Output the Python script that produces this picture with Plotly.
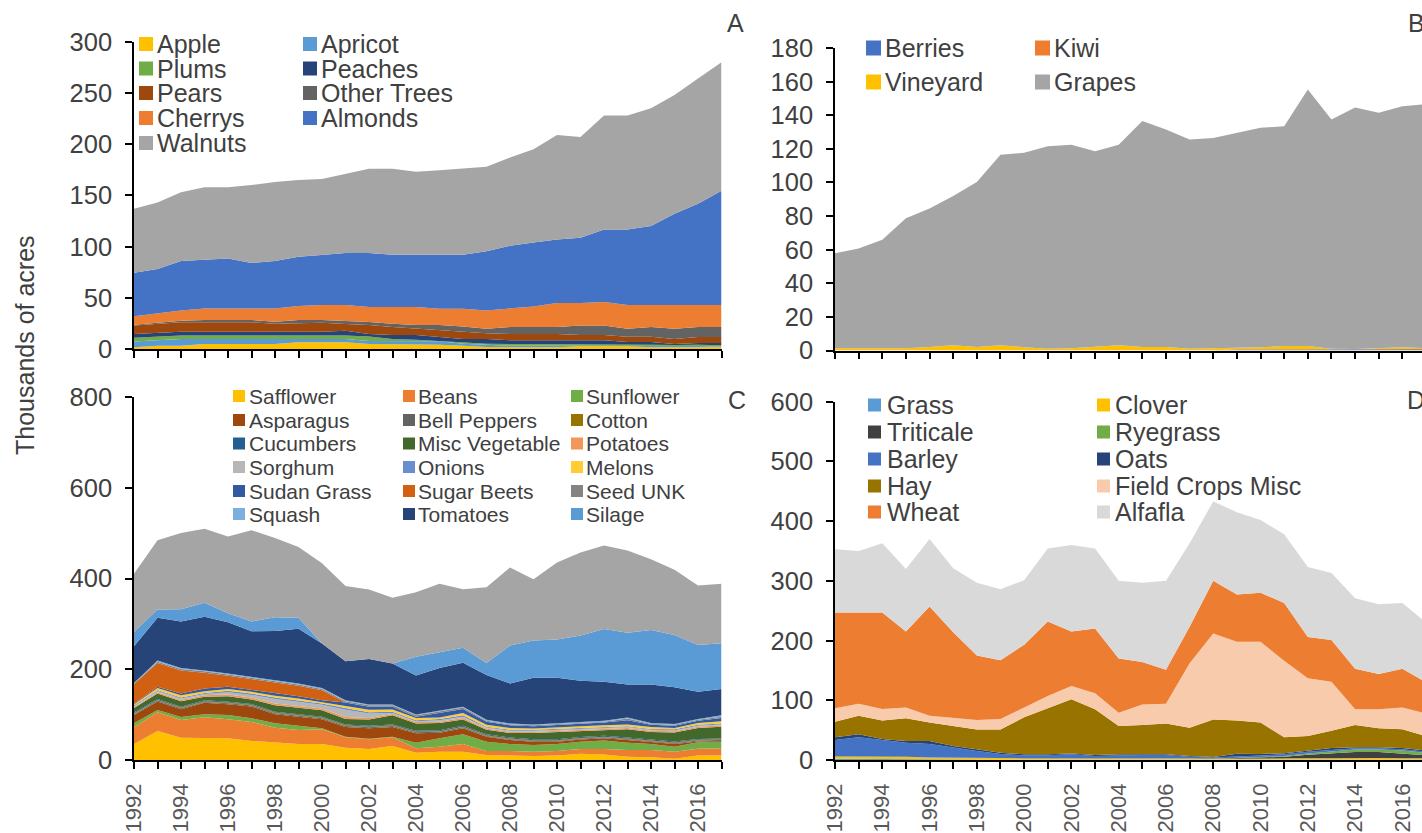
import plotly.graph_objects as go

W, H = 1422, 833
years = list(range(1992, 2018))

# ---------------- Panel A : tree crops (thousands of acres) ----------------
a_names = ["Apple", "Apricot", "Plums", "Peaches", "Pears", "Other Trees", "Cherrys", "Almonds", "Walnuts"]
a_colors = ["#FFC000", "#5B9BD5", "#70AD47", "#264478", "#9E480E", "#636363", "#ED7D31", "#4472C4", "#A5A5A5"]
apple = [1.6, 3.2, 3.2, 4.9, 4.9, 4.9, 4.9, 6.5, 6.5, 6.5, 4.9, 4.9, 4.9, 4.2, 3.2, 2.0, 1.6, 1.6, 1.6, 2.6, 2.6, 2.6, 1.6, 1.6, 1.6, 1.6]
apricot = [5.6, 5.6, 6.5, 4.8, 4.8, 4.8, 4.8, 3.2, 3.2, 3.2, 2.9, 2.9, 2.9, 3.3, 2.0, 1.9, 1.6, 1.6, 1.6, 0.6, 0.6, 0.6, 1.6, 1.6, 1.4, 0.7]
plums = [3.8, 3.2, 3.6, 3.6, 3.6, 3.6, 3.6, 3.6, 3.6, 3.6, 4.5, 1.9, 1.2, 0.3, 1.3, 1.3, 1.7, 1.7, 1.7, 1.7, 1.7, 1.7, 1.0, 0.7, 1.2, 1.3]
peaches = [3.6, 3.6, 3.6, 3.6, 3.6, 3.6, 3.6, 3.6, 3.6, 4.6, 2.3, 3.9, 4.6, 3.9, 3.2, 4.5, 3.6, 3.6, 3.6, 3.6, 3.6, 1.9, 2.6, 1.0, 1.6, 2.2]
pears = [8.4, 9.1, 9.1, 9.1, 9.1, 9.1, 7.8, 8.1, 8.8, 6.5, 8.8, 7.8, 6.2, 7.1, 7.5, 5.6, 6.1, 6.1, 6.1, 5.1, 5.1, 5.2, 5.2, 4.8, 5.9, 5.9]
other_trees = [0.7, 1.0, 1.6, 2.3, 2.3, 2.3, 2.0, 3.3, 2.6, 3.2, 2.9, 3.3, 3.6, 4.6, 4.8, 4.5, 6.8, 6.8, 6.8, 9.4, 9.4, 7.8, 9.4, 10.1, 9.7, 9.7]
cherrys = [8.3, 9.3, 10.1, 11.3, 11.3, 11.3, 12.9, 13.7, 14.7, 15.4, 14.7, 16.3, 17.6, 15.9, 17.3, 17.9, 18.2, 20.2, 23.6, 22.0, 23.0, 23.2, 21.6, 23.2, 21.6, 21.6]
almonds = [42.4, 43.0, 48.3, 47.8, 48.8, 44.4, 46.4, 48.0, 49.0, 50.6, 52.6, 51.0, 51.0, 52.7, 52.7, 57.8, 61.1, 62.4, 62.0, 63.5, 70.7, 73.7, 77.0, 89.0, 98.7, 111.4]
walnuts = [62.6, 65.0, 67.0, 70.6, 69.6, 76.0, 77.0, 75.0, 74.0, 77.4, 82.4, 84.0, 81.0, 82.5, 84.0, 82.5, 86.3, 91.0, 102.0, 98.5, 111.3, 111.3, 115.0, 116.0, 122.3, 125.6]
a_values = [apple, apricot, plums, peaches, pears, other_trees, cherrys, almonds, walnuts]

# ---------------- Panel B : vines ----------------
b_names = ["Berries", "Kiwi", "Vineyard", "Grapes"]
b_colors = ["#4472C4", "#ED7D31", "#FFC000", "#A5A5A5"]
berries = [0, 0, 0, 0, 0, 0, 0, 0, 0, 0, 0, 0, 0, 0, 0, 0, 0, 0.6, 0.6, 0.6, 0.6, 0.8, 0.8, 0.8, 0.8, 0.8]
kiwi = [0.1, 0.1, 0.1, 0.1, 0.1, 0.1, 0.1, 0.1, 0.1, 0.1, 0.1, 0.1, 0.1, 0.1, 0.1, 0.1, 0.1, 0.1, 0.1, 0.1, 0.1, 0.1, 0.1, 0.1, 0.1, 0.1]
vineyard = [1.2, 1.2, 1.2, 1.2, 2.0, 3.0, 2.0, 3.0, 1.8, 1.0, 1.2, 2.0, 3.0, 2.0, 2.0, 1.0, 1.5, 1.0, 1.2, 2.0, 2.0, 0.2, 0.0, 0.3, 1.0, 0.5]
grapes = [56.5, 59.4, 64.6, 77.4, 82.4, 88.9, 98.2, 113.4, 115.8, 120.5, 121.1, 116.4, 119.3, 134.4, 129.4, 124.5, 124.8, 127.8, 130.6, 130.8, 152.6, 136.4, 143.7, 140.2, 143.5, 145.1]
b_values = [berries, kiwi, vineyard, grapes]

# ---------------- Panel C : row crops ----------------
c_names = ["Safflower", "Beans", "Sunflower", "Asparagus", "Bell Peppers", "Cotton",
           "Cucumbers", "Misc Vegetable", "Potatoes", "Sorghum", "Onions", "Melons",
           "Sudan Grass", "Sugar Beets", "Seed UNK", "Squash", "Tomatoes", "Silage", "Other"]
c_colors = ["#FFC000", "#ED7D31", "#70AD47", "#9E480E", "#636363", "#997300",
            "#255E91", "#43682B", "#F1975A", "#B7B7B7", "#698ED0", "#FFCD33",
            "#335AA1", "#D26012", "#848484", "#7CAFDD", "#264478", "#5B9BD5", "#A5A5A5"]
safflower = [35, 64, 49, 49, 48, 42, 38, 35, 35, 27, 24, 31, 16, 18, 18, 11, 10, 9, 10, 14, 12, 7, 6, 3, 10, 10]
beans = [37, 41, 39, 45, 42, 42, 33, 31, 33, 23, 22, 19, 10, 11, 17, 9, 10, 9, 10, 10, 12, 15, 16, 15, 15, 16]
sunflower = [9, 5, 7, 7, 9, 8, 10, 10, 2, 1, 1, 1, 12, 19, 22, 20, 15, 15, 15, 16, 19, 16, 13, 11, 14, 14]
asparagus = [18, 19, 17, 25, 24, 26, 20, 20, 20, 22, 23, 22, 21, 12, 13, 11, 9, 7, 5, 5, 5, 6, 5, 6, 2, 2]
bell_peppers = [2, 2, 2, 2, 2, 2, 2, 2, 2, 2, 2, 2, 2, 2, 2, 2, 2, 2, 2, 2, 2, 2, 2, 2, 2, 2]
cotton = [1.5, 1.5, 1.5, 1.5, 1.5, 1.5, 1.5, 1.5, 1.5, 1.5, 1.5, 1.5, 1.5, 1.5, 1.5, 1.5, 1.5, 1.5, 1.5, 1.5, 1.5, 1.5, 1.5, 1.5, 1.5, 1.5]
cucumbers = [2, 2, 2, 2, 2, 2, 2, 2, 2, 2, 2, 2, 2, 2, 2, 2, 2, 2, 2, 2, 2, 2, 2, 2, 2, 2]
misc_vegetable = [10, 12, 12, 8, 12, 10, 14, 14, 14, 12, 14, 20, 16, 16, 14, 10, 10, 14, 16, 14, 12, 18, 16, 20, 24, 26]
potatoes = [2, 3, 3, 3, 4, 4, 4, 4, 4, 4, 3, 3, 3, 3, 3, 3, 3, 3, 3, 3, 3, 3, 3, 3, 3, 3]
sorghum = [2, 3, 3, 3, 5, 6, 10, 9, 8, 16, 10, 2, 2, 3, 3, 2, 2, 2, 2, 2, 2, 2, 2, 2, 2, 2]
onions = [2, 2, 2, 2, 3, 3, 3, 3, 3, 4, 3, 3, 2, 3, 3, 2, 2, 2, 2, 2, 2, 2, 2, 2, 2, 2]
melons = [2, 4, 5, 4, 4, 4, 4, 4, 3, 5, 5, 5, 5, 3, 5, 4, 4, 3, 4, 3, 4, 4, 4, 3, 4, 5]
sudan_grass = [1, 3, 4, 6, 5, 4, 5, 5, 4, 7, 7, 6, 3, 10, 9, 7, 6, 5, 5, 5, 6, 9, 5, 5, 5, 7]
sugar_beets = [44, 52, 51, 35, 24, 24, 24, 23, 22, 0, 0, 0, 0, 0, 0, 0, 0, 0, 0, 0, 0, 0, 0, 0, 0, 0]
seed_unk = [1, 3, 3, 3, 3, 3, 3, 3, 3, 3, 3, 3, 3, 4, 3, 2, 2, 2, 2, 2, 2, 4, 2, 2, 2, 3]
squash = [1, 3, 2, 2, 2, 2, 2, 2, 2, 2, 2, 2, 2, 2, 2, 2, 2, 2, 2, 2, 2, 2, 2, 2, 2, 3]
tomatoes = [81, 94, 103, 118, 113, 100, 109, 121, 98, 86, 100, 90, 86, 93, 97, 99, 88, 103, 100, 91, 86, 73, 85, 81, 60, 58]
silage = [32, 18, 27, 31, 20, 22, 30, 24, 0, 0, 0, 0, 41, 35, 33, 26, 84, 82, 84, 100, 116, 114, 120, 115, 103, 101]
other_field = [128, 153, 168, 163, 169, 201, 175, 156, 177, 166, 153, 145, 142, 151, 129, 167, 172, 135, 170, 183, 184, 181, 156, 144, 131, 131]
c_values = [safflower, beans, sunflower, asparagus, bell_peppers, cotton, cucumbers,
            misc_vegetable, potatoes, sorghum, onions, melons, sudan_grass, sugar_beets,
            seed_unk, squash, tomatoes, silage, other_field]

# ---------------- Panel D : field crops ----------------
d_names = ["Grass", "Clover", "Triticale", "Ryegrass", "Barley", "Oats", "Hay", "Field Crops Misc", "Wheat", "Alfafla"]
d_colors = ["#5B9BD5", "#FFC000", "#404040", "#70AD47", "#4472C4", "#264478", "#997300", "#F8CBAD", "#ED7D31", "#D9D9D9"]
grass = [2, 2, 2, 1.5, 1, 1, 1, 0.5, 0.5, 0.5, 0.5, 0.5, 0.5, 0.5, 0.5, 0.5, 0.5, 0.5, 0.5, 0.5, 1, 1, 1, 1, 1, 1]
clover = [4, 4, 4, 4, 3, 3, 3, 3, 2, 2, 2, 2, 2, 3, 3, 2, 1.5, 2, 2, 2, 2, 2, 2.5, 2.5, 2, 2]
triticale = [0, 0, 0, 0, 0, 0, 0, 0, 0, 0, 0, 0, 0, 0, 0, 0, 0, 1, 2, 3, 6, 8, 10, 10, 8, 5]
ryegrass = [0, 0, 0, 0, 0, 0, 0, 0, 0, 0, 0, 0, 0, 0, 0, 0, 0, 0, 0.5, 1, 2, 3, 4, 4, 5, 4]
barley = [27.5, 32, 27.5, 23.5, 23, 16.7, 11, 6.5, 5.3, 5.5, 7, 4.2, 5.3, 5, 5, 3, 2, 2, 3, 3, 3, 3, 2, 2, 2, 2]
oats = [4.5, 5, 1.5, 3, 5, 2.8, 3, 2, 1.7, 1.5, 1.5, 1.7, 1.7, 1.5, 1, 1, 1, 5, 2, 2, 2, 3, 2, 2, 2, 2]
hay = [26, 31, 31, 38, 30.6, 33.5, 33, 39, 62, 77.1, 90.7, 76.6, 47.5, 48.7, 51.5, 47.5, 63, 55.5, 52.6, 26.5, 24, 29, 37.2, 31.5, 31.4, 24]
field_crops_misc = [22.6, 20, 19.5, 18, 11.4, 14, 16, 17.7, 16.2, 20.4, 22.3, 26.7, 22, 34.3, 33, 108, 144, 132, 135.4, 128, 97, 82, 26.3, 32, 36.6, 38]
wheat = [160.4, 153, 161.5, 127, 183, 143, 108, 98.3, 105.3, 125, 91, 108.3, 91, 71, 57, 61, 88, 79, 82, 97, 69, 70, 68, 59, 65, 52]
alfafla = [106, 103, 116, 105, 113, 107, 122, 119, 108, 122, 145, 134, 130, 133, 149, 140, 133, 138, 122, 115, 117, 112, 118, 117, 110, 100]
d_values = [grass, clover, triticale, ryegrass, barley, oats, hay, field_crops_misc, wheat, alfafla]

FONT = "Liberation Sans, Arial, sans-serif"
TXT = "#404040"


def px(x):
    return x / W


def py(y):
    return 1 - y / H


fig = go.Figure()


def add_stack(names, values, colors, xa, ya, group):
    for n, v, c in zip(names, values, colors):
        fig.add_trace(go.Scatter(
            x=years, y=v, name=n, mode="lines", line=dict(width=0, color=c),
            fillcolor=c, stackgroup=group, xaxis=xa, yaxis=ya, showlegend=False))


add_stack(a_names, a_values, a_colors, "x", "y", "A")
add_stack(b_names, b_values, b_colors, "x2", "y2", "B")
add_stack(c_names, c_values, c_colors, "x3", "y3", "C")
add_stack(d_names, d_values, d_colors, "x4", "y4", "D")


def yax(domain, rng, dtick, anchor):
    return dict(domain=domain, range=rng, dtick=dtick, tick0=0, anchor=anchor,
                showline=True, linecolor="black", linewidth=1.5, ticks="outside",
                ticklen=7, tickwidth=1.5, tickcolor="black", showgrid=False,
                zeroline=False, ticklabelstandoff=8, automargin=False,
                tickfont=dict(family=FONT, size=25.5, color=TXT), fixedrange=True)


def xax(domain, rng, anchor, labels):
    return dict(domain=domain, range=rng, anchor=anchor, tickmode="array",
                tickvals=years,
                ticktext=[str(y) if (labels and y % 2 == 0) else "" for y in years],
                tickangle=-90, showline=True, linecolor="black", linewidth=1.5,
                ticks="outside", ticklen=7, tickwidth=1.5, tickcolor="black",
                showgrid=False, zeroline=False, showticklabels=labels,
                ticklabelstandoff=6, automargin=False,
                tickfont=dict(family=FONT, size=22, color="#595959"), fixedrange=True)


left = [px(134), px(721.5)]
right = [px(835), 1.0]
fig.update_layout(
    width=W, height=H, margin=dict(l=0, r=0, t=0, b=0, pad=0, autoexpand=False),
    paper_bgcolor="white", plot_bgcolor="white", showlegend=False,
    font=dict(family=FONT, color=TXT),
    xaxis=xax(left, [1992, 2017], "y", False),
    yaxis=yax([py(349), py(41.7)], [0, 300], 50, "x"),
    xaxis2=xax(right, [1992, 2016.83], "y2", False),
    yaxis2=yax([py(350.5), py(48)], [0, 180], 20, "x2"),
    xaxis3=xax(left, [1992, 2017], "y3", True),
    yaxis3=yax([py(760), py(397)], [0, 800], 200, "x3"),
    xaxis4=xax(right, [1992, 2016.83], "y4", True),
    yaxis4=yax([py(760), py(401.7)], [0, 600], 100, "x4"),
)


def add_legend(names, colors, ncol, sq_x, txt_x, row_y, sq, fs):
    for k, (n, c) in enumerate(zip(names, colors)):
        r, ci = divmod(k, ncol)
        y = row_y[r]
        fig.add_shape(type="rect", xref="paper", yref="paper",
                      x0=px(sq_x[ci]), x1=px(sq_x[ci] + sq),
                      y0=py(y + sq / 2), y1=py(y - sq / 2),
                      fillcolor=c, line=dict(width=0), layer="above")
        fig.add_annotation(text=n, x=px(txt_x[ci]), y=py(y), xref="paper", yref="paper",
                           xanchor="left", yanchor="middle", showarrow=False,
                           font=dict(family=FONT, size=fs, color=TXT))


add_legend(a_names, a_colors, 2, [139, 303], [155, 319], [44, 68.5, 93, 118, 143], 14, 25)
add_legend(b_names, b_colors, 2, [866, 1035], [883, 1052], [48, 82], 15, 25)
add_legend(c_names[:18], c_colors[:18], 3, [233, 403, 571], [247, 416, 584],
           [396, 420, 443.5, 467, 491, 514], 12, 21)
add_legend(d_names, d_colors, 2, [868, 1097], [885, 1113], [405, 432, 459, 486, 512], 13, 25)

# panel letters
for letter, (lx, ly) in {"A": (735, 23), "B": (1416, 23), "C": (737, 400), "D": (1416, 400)}.items():
    fig.add_annotation(text=letter, x=px(lx), y=py(ly), xref="paper", yref="paper",
                       xanchor="center", yanchor="middle", showarrow=False,
                       font=dict(family=FONT, size=25, color=TXT))

# shared y-axis title
fig.add_annotation(text="Thousands of acres", x=px(25), y=py(345), xref="paper", yref="paper",
                   xanchor="center", yanchor="middle", textangle=-90, showarrow=False,
                   font=dict(family=FONT, size=25, color=TXT))

fig.write_html("out.html", config={"displayModeBar": False},
               post_script="document.body.style.margin='0';document.body.style.overflow='hidden';")
